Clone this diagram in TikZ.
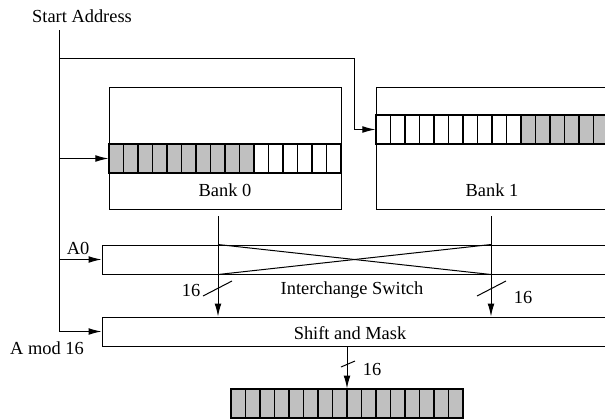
\documentclass[tikz,border=0pt]{standalone}
\usepackage{fontspec}
\setmainfont{Liberation Serif}
\usetikzlibrary{arrows.meta, positioning, calc}
\definecolor{cellgray}{RGB}{192,192,192}

\begin{document}
\begin{tikzpicture}[x=0.5pt, y=-0.5pt, every node/.style={font=\fontsize{9.2}{11}\selectfont}]
  % 定义样式
  \tikzstyle{unit}=[rectangle, draw=black, line width=0.5pt, inner sep=0pt]
  \tikzstyle{cell}=[rectangle, draw=black, line width=0.6pt, minimum width=7.25pt, minimum height=14.5pt, inner sep=0pt]
  \tikzstyle{wire}=[line width=0.5pt]
  \tikzstyle{arrow}=[line width=0.5pt, -{Latex[length=6.5pt, width=3.4pt]}]

  \useasboundingbox (0,0) rectangle (605,419);
  \clip (0,0) rectangle (605,419);

  % 节点
  \node (start) at (82,16) {Start Address};
  \coordinate (top) at (59,30);
  \coordinate (turn) at (354,58);

  \node (bank0) [unit, minimum width=116pt, minimum height=61pt] at (225,148) {};
  \node (bank1) [unit, minimum width=116pt, minimum height=61pt] at (492,148) {};
  \node (bank0txt) at (225,190) {Bank 0};
  \node (bank1txt) at (492,190) {Bank 1};

  \foreach \i in {0,...,9}
    \node (a\i) [cell, fill=cellgray] at ({116.25+14.5*\i},158.5) {};
  \foreach \i in {10,...,15}
    \node (a\i) [cell, fill=white] at ({116.25+14.5*\i},158.5) {};
  \foreach \i in {0,...,9}
    \node (b\i) [cell, fill=white] at ({383.25+14.5*\i},129.5) {};
  \foreach \i in {10,...,15}
    \node (b\i) [cell, fill=cellgray] at ({383.25+14.5*\i},129.5) {};

  \node (switch) [unit, minimum width=255pt, minimum height=14.5pt] at (357,259.5) {};
  \node (shift) [unit, minimum width=255pt, minimum height=14.5pt] at (357,331.5) {};
  \node (switchtxt) at (352,290) {Interchange Switch};
  \node (shifttxt) at (350,333) {Shift and Mask};

  \node (reg) [unit, minimum width=116pt, minimum height=14.5pt] at (347,403.5) {};
  \foreach \i in {0,...,15}
    \node (r\i) [cell, fill=cellgray] at ({238.25+14.5*\i},403.5) {};

  \node (azero) at (78,248) {A0};
  \node (amod) at (47,348) {A mod 16};

  \coordinate (out0) at (218,216);
  \coordinate (out1) at (491,216);

  % 箭头
  \draw[arrow] (top) |- (shift.west);
  \draw[arrow] (top |- switch.west) -- (switch.west);
  \draw[arrow] (top |- a0.west) -- (a0.west);
  \draw[arrow] (top |- turn) -- (turn) |- (b0.west);

  \draw[arrow] (out0) -- (out0 |- shift.north);
  \draw[arrow] (out1) -- (out1 |- shift.north);
  \draw[wire] (out0 |- switch.north) -- (out1 |- switch.south);
  \draw[wire] (out0 |- switch.south) -- (out1 |- switch.north);
  \draw[arrow] (reg.north |- shift.south) -- (reg.north);

  % 位宽
  \draw[wire] (203,296) -- (232,281);
  \draw[wire] (477,296) -- (506,281);
  \draw[wire] (341,367) -- (355,361);
  \node (w0) at (191,290) {16};
  \node (w1) at (523,297) {16};
  \node (w2) at (372,369) {16};
\end{tikzpicture}
\end{document}
